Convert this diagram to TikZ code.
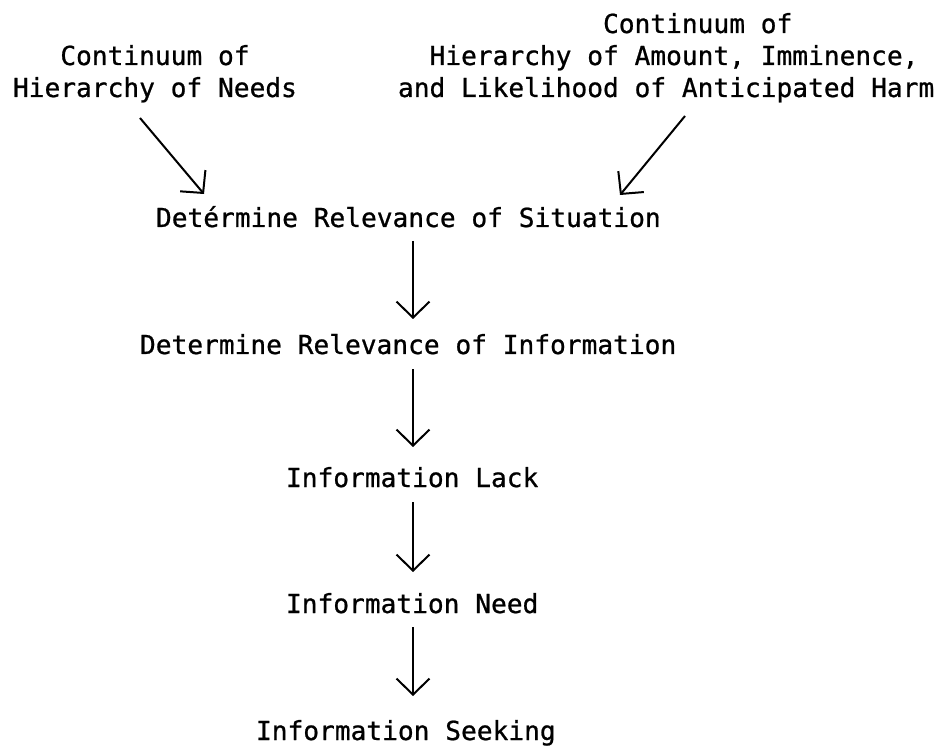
\documentclass[tikz,border=0pt]{standalone}
\usepackage{fontspec}
\setmonofont[FakeBold=0.8,AutoFakeBold=false]{DejaVu Sans Mono}
\newfontfamily\typewr[FakeBold=0.8]{DejaVu Sans Mono}
\usetikzlibrary{arrows.meta,calc}
\tikzset{
  lbl/.style={inner sep=0pt, outer sep=0pt, anchor=base west, align=left,
    font=\typewr\fontsize{26.2pt}{32pt}\selectfont},
  arr/.style={line width=2pt, -{Straight Barb[length=16pt,width=33pt,line width=2pt]}}
}
\begin{document}
\begin{tikzpicture}[x=1pt,y=-1pt]
\useasboundingbox (0,0) rectangle (946,746);
\node[lbl] (needs) at (13,97) {\phantom{xxx}Continuum of\\Hierarchy of Needs};
\node[lbl] (harm) at (398,97) {\phantom{xxxxxxxxxxxxx}Continuum of\\\phantom{xx}Hierarchy of Amount, Imminence,\\and Likelihood of Anticipated Harm};
\node[lbl] (sit) at (156,227) {Detérmine Relevance of Situation};
\node[lbl] (info) at (140,354) {Determine Relevance of Information};
\node[lbl] (lack) at (286,487) {Information Lack};
\node[lbl] (need) at (286,613) {Information Need};
\node[lbl] (seek) at (256,740) {Information Seeking};
\coordinate (ax) at (413,0);
\draw[arr] ($(needs.base west)+(127,21)$) -- ($(sit.base west)+(48,-33)$);
\draw[arr] ($(harm.base west)+(287,19)$) -- ($(sit.base west)+(464,-32)$);
\draw[arr] ($(sit.base -| ax)+(0,14)$) -- ($(info.base -| ax)+(0,-35)$);
\draw[arr] ($(info.base -| ax)+(0,15)$) -- ($(lack.base -| ax)+(0,-40)$);
\draw[arr] ($(lack.base -| ax)+(0,15)$) -- ($(need.base -| ax)+(0,-41)$);
\draw[arr] ($(need.base -| ax)+(0,14)$) -- ($(seek.base -| ax)+(0,-44)$);
\end{tikzpicture}
\end{document}
